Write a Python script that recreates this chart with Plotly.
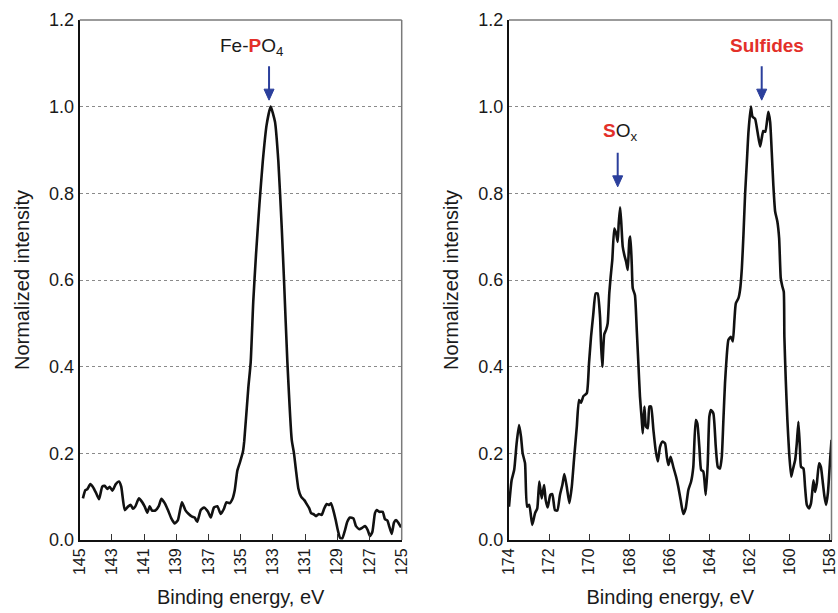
import plotly.graph_objects as go

# ---------------- data ----------------
p_energy = [144.80, 144.65, 144.53, 144.34, 144.17, 144.00, 143.80, 143.60, 143.45, 143.29,
            143.14, 142.97, 142.76, 142.56, 142.42, 142.20, 142.00, 141.83, 141.69, 141.55,
            141.32, 141.13, 140.96, 140.80, 140.65, 140.51, 140.30, 140.09, 139.93, 139.72,
            139.52, 139.31, 139.10, 138.90, 138.65, 138.44, 138.23, 138.02, 137.86, 137.70,
            137.48, 137.28, 137.03, 136.86, 136.66, 136.45, 136.24, 136.04, 135.89, 135.68,
            135.52, 135.37, 135.21, 135.04, 134.86, 134.78, 134.53, 134.38, 134.22, 134.05,
            133.84, 133.63, 133.39, 133.14, 132.87, 132.66, 132.45, 132.31, 132.10, 131.83,
            131.69, 131.57, 131.42, 131.25, 131.05, 130.90, 130.74, 130.63, 130.49, 130.32,
            130.15, 129.97, 129.81, 129.66, 129.50, 129.39, 129.25, 129.10, 128.97, 128.83,
            128.69, 128.52, 128.38, 128.21, 128.00, 127.84, 127.63, 127.42, 127.28, 127.11,
            126.97, 126.82, 126.66, 126.55, 126.39, 126.18, 126.04, 125.89, 125.77, 125.62,
            125.48, 125.35, 125.21, 125.04]
p_intensity = [0.096, 0.115, 0.117, 0.129, 0.122, 0.110, 0.094, 0.123, 0.125, 0.118,
               0.123, 0.114, 0.129, 0.135, 0.123, 0.069, 0.077, 0.081, 0.072, 0.077,
               0.096, 0.088, 0.077, 0.063, 0.078, 0.068, 0.068, 0.078, 0.095, 0.085,
               0.069, 0.050, 0.038, 0.046, 0.087, 0.069, 0.060, 0.054, 0.052, 0.042,
               0.069, 0.075, 0.065, 0.052, 0.075, 0.078, 0.060, 0.072, 0.087, 0.085,
               0.094, 0.115, 0.160, 0.180, 0.204, 0.228, 0.350, 0.410, 0.550, 0.658,
               0.773, 0.873, 0.958, 1.000, 0.965, 0.873, 0.720, 0.600, 0.410, 0.231,
               0.200, 0.162, 0.119, 0.100, 0.092, 0.083, 0.073, 0.062, 0.060, 0.055,
               0.060, 0.058, 0.073, 0.083, 0.081, 0.085, 0.069, 0.046, 0.023, 0.005,
               0.004, 0.023, 0.042, 0.052, 0.050, 0.032, 0.025, 0.029, 0.032, 0.023,
               0.009, 0.019, 0.062, 0.069, 0.065, 0.065, 0.048, 0.045, 0.031, 0.014,
               0.040, 0.046, 0.040, 0.029]

s_energy = [174.00, 173.87, 173.74, 173.62, 173.50, 173.40, 173.32, 173.20, 173.10, 172.99,
            172.84, 172.70, 172.59, 172.49, 172.37, 172.25, 172.17, 172.07, 171.94, 171.84,
            171.71, 171.59, 171.46, 171.34, 171.24, 171.12, 170.99, 170.87, 170.76, 170.62,
            170.51, 170.41, 170.29, 170.12, 170.01, 169.91, 169.80, 169.68, 169.58, 169.46,
            169.42, 169.35, 169.25, 169.16, 169.08, 169.00, 168.93, 168.85, 168.75, 168.66,
            168.58, 168.53, 168.46, 168.40, 168.33, 168.25, 168.16, 168.08, 168.00, 167.95,
            167.88, 167.83, 167.72, 167.63, 167.55, 167.47, 167.38, 167.33, 167.25, 167.17,
            167.08, 167.00, 166.92, 166.80, 166.69, 166.58, 166.47, 166.35, 166.22, 166.13,
            166.05, 165.94, 165.81, 165.67, 165.56, 165.44, 165.31, 165.19, 165.06, 164.92,
            164.81, 164.69, 164.61, 164.51, 164.42, 164.31, 164.19, 164.09, 164.01, 163.93,
            163.81, 163.69, 163.59, 163.48, 163.39, 163.31, 163.23, 163.14, 163.06, 162.94,
            162.84, 162.76, 162.69, 162.56, 162.48, 162.39, 162.31, 162.23, 162.14, 162.06,
            161.94, 161.86, 161.73, 161.61, 161.48, 161.40, 161.32, 161.22, 161.07, 160.98,
            160.90, 160.82, 160.73, 160.62, 160.53, 160.45, 160.37, 160.30, 160.27, 160.20,
            160.12, 160.03, 159.93, 159.85, 159.73, 159.65, 159.57, 159.49, 159.44, 159.32,
            159.24, 159.15, 159.04, 158.94, 158.82, 158.74, 158.65, 158.54, 158.45, 158.35,
            158.27, 158.19, 158.10, 157.99, 157.92]
s_intensity = [0.077, 0.138, 0.162, 0.223, 0.265, 0.238, 0.200, 0.177, 0.077, 0.081,
               0.035, 0.062, 0.073, 0.135, 0.096, 0.127, 0.092, 0.075, 0.104, 0.106,
               0.069, 0.068, 0.104, 0.127, 0.152, 0.123, 0.085, 0.123, 0.185, 0.261,
               0.323, 0.317, 0.332, 0.339, 0.408, 0.469, 0.520, 0.569, 0.569, 0.515,
               0.462, 0.400, 0.475, 0.485, 0.500, 0.569, 0.608, 0.646, 0.719, 0.708,
               0.688, 0.731, 0.768, 0.731, 0.677, 0.658, 0.642, 0.623, 0.692, 0.700,
               0.638, 0.581, 0.565, 0.485, 0.408, 0.331, 0.277, 0.246, 0.308, 0.262,
               0.258, 0.308, 0.308, 0.254, 0.208, 0.181, 0.215, 0.227, 0.223, 0.192,
               0.173, 0.192, 0.169, 0.146, 0.123, 0.092, 0.060, 0.073, 0.115, 0.135,
               0.169, 0.277, 0.269, 0.215, 0.162, 0.158, 0.104, 0.177, 0.285, 0.300,
               0.292, 0.215, 0.169, 0.165, 0.192, 0.277, 0.362, 0.427, 0.462, 0.469,
               0.458, 0.508, 0.546, 0.558, 0.577, 0.627, 0.704, 0.796, 0.873, 0.942,
               1.000, 0.977, 0.972, 0.942, 0.908, 0.927, 0.944, 0.942, 0.988, 0.965,
               0.896, 0.819, 0.758, 0.735, 0.696, 0.604, 0.585, 0.573, 0.469, 0.369,
               0.277, 0.200, 0.146, 0.162, 0.185, 0.223, 0.273, 0.208, 0.169, 0.165,
               0.123, 0.081, 0.073, 0.085, 0.138, 0.111, 0.131, 0.177, 0.169, 0.131,
               0.100, 0.081, 0.108, 0.185, 0.231]

y_ticks = [0.0, 0.2, 0.4, 0.6, 0.8, 1.0, 1.2]
p_ticks = [145, 143, 141, 139, 137, 135, 133, 131, 129, 127, 125]
s_ticks = [174, 172, 170, 168, 166, 164, 162, 160, 158]

x_title = "Binding energy, eV"
y_title = "Normalized intensity"

# ---------------- style ----------------
W, H = 838, 613
FONT = "Liberation Sans, Arial, Helvetica, sans-serif"
RED = "#e3302a"
BLUE = "#2b3f9c"
TXT = "#1a1a1a"

dom_left = [79.7 / W, 401.7 / W]
dom_right = [509.0 / W, 831.5 / W]
dom_y = [1 - 540.0 / H, 1 - 20.0 / H]

fig = go.Figure()
fig.add_trace(go.Scatter(x=p_energy, y=p_intensity, mode="lines",
                         line=dict(color="#111111", width=2.6, shape="spline", smoothing=0.5),
                         xaxis="x", yaxis="y", showlegend=False, hoverinfo="skip"))
fig.add_trace(go.Scatter(x=s_energy, y=s_intensity, mode="lines",
                         line=dict(color="#111111", width=2.6, shape="spline", smoothing=0.5),
                         xaxis="x2", yaxis="y2", showlegend=False, hoverinfo="skip"))

xcommon = dict(showgrid=False, zeroline=False, showline=True, linecolor="#111111", linewidth=2,
               ticks="inside", ticklen=6, tickwidth=1.3, tickcolor="#333333",
               tickangle=-90, tickfont=dict(size=16, color=TXT, family=FONT),
               ticklabeloverflow="allow",
               title=dict(text=x_title, font=dict(size=20, color=TXT, family=FONT), standoff=16),
               automargin=False, fixedrange=True)
ycommon = dict(range=[0, 1.2], tickvals=y_ticks, ticktext=[f"{v:.1f}" for v in y_ticks],
               showgrid=True, gridcolor="#8a8a8a", griddash="dot", gridwidth=1,
               zeroline=False, showline=True, linecolor="#111111", linewidth=2,
               ticks="", tickfont=dict(size=18, color=TXT, family=FONT),
               title=dict(text=y_title, font=dict(size=20, color=TXT, family=FONT), standoff=14),
               automargin=False, fixedrange=True, domain=dom_y)

fig.update_layout(
    width=W, height=H, margin=dict(l=0, r=0, t=0, b=0),
    paper_bgcolor="white", plot_bgcolor="white",
    font=dict(family=FONT, color=TXT),
    xaxis=dict(xcommon, range=[145, 125], tickvals=p_ticks, domain=dom_left, anchor="y"),
    yaxis=dict(ycommon, anchor="x"),
    xaxis2=dict(xcommon, range=[174, 157.92], tickvals=s_ticks, domain=dom_right, anchor="y2"),
    yaxis2=dict(ycommon, anchor="x2"),
)

# gray top/right frame lines
for xr, yr in (("x domain", "y domain"), ("x2 domain", "y2 domain")):
    fig.add_shape(type="line", xref=xr, yref=yr, x0=0, x1=1, y0=1, y1=1,
                  line=dict(color="#7a7a7a", width=1.5))
    fig.add_shape(type="line", xref=xr, yref=yr, x0=1, x1=1, y0=0, y1=1,
                  line=dict(color="#7a7a7a", width=1.5))

# peak labels
labels = [
    dict(x=134.32, y=1.138, xref="x", yref="y",
         text='Fe-<span style="color:%s"><b>P</b></span>O<sub>4</sub>' % RED),
    dict(x=168.49, y=0.942, xref="x2", yref="y2",
         text='<span style="color:%s"><b>S</b></span>O<sub>x</sub>' % RED),
    dict(x=161.15, y=1.142, xref="x2", yref="y2",
         text='<span style="color:%s"><b>Sulfides</b></span>' % RED),
]
for lab in labels:
    fig.add_annotation(showarrow=False, xanchor="center", yanchor="middle",
                       font=dict(size=19, color=TXT, family=FONT), **lab)

# arrows (tip anchored at data point, drawn in pixel units above it)
arrows = [
    dict(x=133.24, y=1.015, xref="x", yref="y"),
    dict(x=168.58, y=0.815, xref="x2", yref="y2"),
    dict(x=161.40, y=1.015, xref="x2", yref="y2"),
]
for ar in arrows:
    fig.add_shape(type="line", xref=ar["xref"], yref=ar["yref"],
                  xsizemode="pixel", ysizemode="pixel", xanchor=ar["x"], yanchor=ar["y"],
                  x0=0, x1=0, y0=8, y1=34, line=dict(color=BLUE, width=2))
    fig.add_shape(type="path", xref=ar["xref"], yref=ar["yref"],
                  xsizemode="pixel", ysizemode="pixel", xanchor=ar["x"], yanchor=ar["y"],
                  path="M -5,11 L 5,11 L 0,0 Z", fillcolor=BLUE,
                  line=dict(color=BLUE, width=1))

fig.write_html("out.html")
